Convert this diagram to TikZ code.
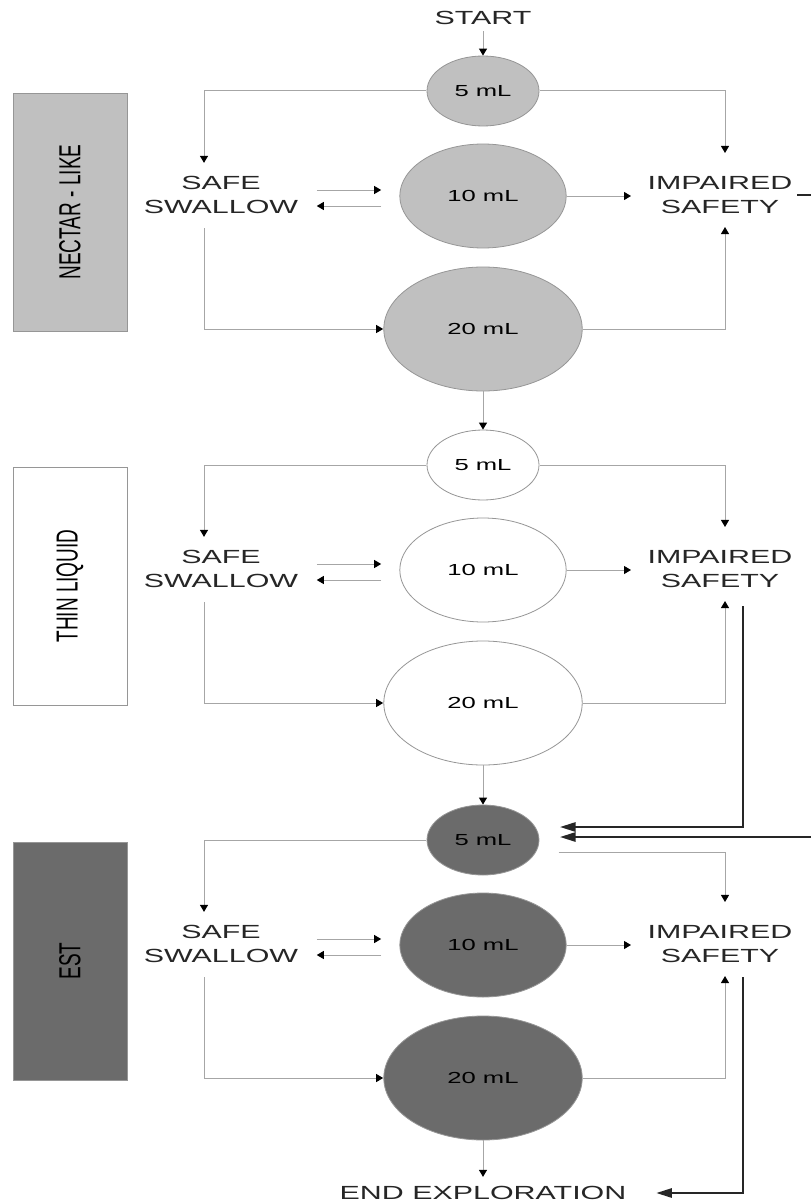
\documentclass[tikz,border=0pt]{standalone}
\usepackage{fontspec}
\setmainfont{Liberation Sans}
\usetikzlibrary{arrows.meta,calc}
\definecolor{nectar}{RGB}{192,192,192}
\definecolor{estgray}{RGB}{107,107,107}
\definecolor{rimgray}{RGB}{150,150,150}
\begin{document}
\begin{tikzpicture}[x=0.5pt,y=-0.5pt,
    squash/.style={xscale=1.6},
    vol/.style={squash,circle,draw=rimgray,inner sep=0pt,font=\fontsize{8}{9}\selectfont},
    lbl/.style={squash,align=center,inner sep=0pt,text=black!85,font=\fontsize{9.5}{12}\selectfont},
    side/.style={squash,rotate=90,draw=rimgray,minimum width=119pt,minimum height=35.6pt,font=\fontsize{9.5}{12}\selectfont},
    link/.style={gray!70,line width=0.5pt,-{Triangle[length=3.5pt,width=4pt,color=black]}},
    back/.style={black!85,line width=1.4pt,-{Triangle[length=8pt,width=4.5pt]}}]
  \fill[white] (0,0) rectangle (810,1204);
  \useasboundingbox (0,0) rectangle (810,1204);
  \node[lbl] (start) at (483,18) {START};
  \node[lbl] (fin) at (483,1193) {END EXPLORATION};
  \coordinate (edge) at (840,0);
  \foreach \s/\yo/\col/\txt/\dx/\dy in {n/0/nectar/{NECTAR - LIKE}/0pt/0pt,t/374/white/{THIN LIQUID}/0pt/0pt,e/749/estgray/EST/9.5pt/-6pt}{
    \node[side,fill=\col] (box\s) at (70,{212+\yo}) {\txt};
    \node[vol,fill=\col,minimum size=35pt] (v5\s) at (483,{91+\yo}) {5 mL};
    \node[vol,fill=\col,minimum size=52pt] (v10\s) at (483,{196+\yo}) {10 mL};
    \node[vol,fill=\col,minimum size=62pt] (v20\s) at (483,{329+\yo}) {20 mL};
    \node[lbl] (safe\s) at (221,{195+\yo}) {SAFE\\SWALLOW};
    \node[lbl] (imp\s) at (720,{195+\yo}) {IMPAIRED\\SAFETY};
    \draw[link,shorten >=6.5pt] (v5\s.west) -| ([xshift=-8.5pt]safe\s.north);
    \draw[link,shorten >=11.5pt] ([shift={(\dx,\dy)}]v5\s.east) -| ([xshift=2.5pt]imp\s.north);
    \draw[link,shorten <=9pt,shorten >=9pt] ($(v10\s.west -| safe\s.east)+(0,3pt)$) -- ($(v10\s.west)+(0,3pt)$);
    \draw[link,shorten <=9pt,shorten >=9pt] ($(v10\s.west)+(0,-5pt)$) -- ($(v10\s.west -| safe\s.east)+(0,-5pt)$);
    \draw[link,shorten >=8pt] (v10\s.east) -- (v10\s.east -| imp\s.west);
    \draw[link,shorten <=7pt] ([xshift=-8.5pt]safe\s.south) |- (v20\s.west);
    \draw[link,shorten >=6.5pt] (v20\s.east) -| ([xshift=2.5pt]imp\s.south);
  }
  \draw[link,shorten <=3pt] (start.south) -- (v5n.north);
  \draw[link] (v20n.south) -- (v5t.north);
  \draw[link] (v20t.south) -- (v5e.north);
  \draw[link,shorten >=4.5pt] (v20e.south) -- (fin.north);
  \draw[back,shorten <=2pt] (impn.east) -- (impn.east -| edge) |- ($(v5e.east)+(10pt,1.5pt)$);
  \draw[back,shorten <=9pt] ([xshift=11.5pt]impt.south) |- ($(v5e.east)+(10pt,6.5pt)$);
  \draw[back,shorten <=7pt,shorten >=14.5pt] ([xshift=11.5pt]impe.south) |- (fin.east);
\end{tikzpicture}
\end{document}
